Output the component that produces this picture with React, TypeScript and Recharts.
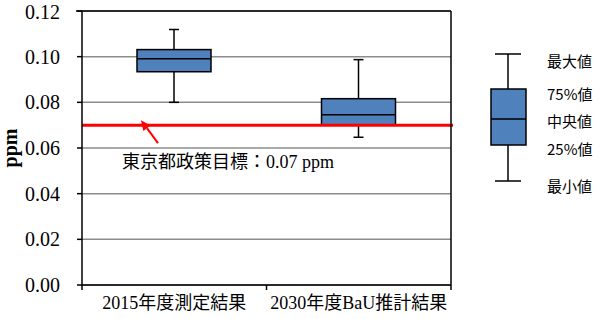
import React from 'react';
import {
  ComposedChart,
  Bar,
  XAxis,
  YAxis,
  CartesianGrid,
  ReferenceLine,
} from 'recharts';

const categories = ['2015年度測定結果', '2030年度BaU推計結果'];
const minValues = [0.08, 0.0647];
const q1Values = [0.0934, 0.07];
const medianValues = [0.0991, 0.0746];
const q3Values = [0.1031, 0.0816];
const maxValues = [0.1119, 0.0987];
const yTicks = [0, 0.02, 0.04, 0.06, 0.08, 0.1, 0.12];
const targetValue = 0.07;
const targetLabel = '東京都政策目標：0.07 ppm';
const legendLabels = ['最大値', '75%値', '中央値', '25%値', '最小値'];

const data = categories.map((name, i) => ({
  name,
  range: [minValues[i], maxValues[i]],
  min: minValues[i],
  q1: q1Values[i],
  median: medianValues[i],
  q3: q3Values[i],
  max: maxValues[i],
}));

const W = 600;
const H = 319;
const MARGIN = { top: 11, right: 149, bottom: 0, left: 0 };
const Y_AXIS_W = 82;
const X_AXIS_H = 34;
const PLOT_LEFT = MARGIN.left + Y_AXIS_W;
const PLOT_RIGHT = W - MARGIN.right;
const PLOT_TOP = MARGIN.top;
const PLOT_BOTTOM = H - X_AXIS_H;
const HALF_BAND = (PLOT_RIGHT - PLOT_LEFT) / categories.length / 2;

const SERIF = '"Liberation Serif", "Times New Roman", "Noto Sans CJK JP", serif';
const BOX_FILL = '#4f81bd';

// box drawn inside the [min, max] range bar
const BoxShape = (props: any) => {
  const { x, y, width, height, payload } = props;
  const { min, max, q1, q3, median } = payload;
  const k = Math.abs(height) / (max - min);
  const top = Math.min(y, y + height);
  const py = (v: number) => top + (max - v) * k;
  const cx = x + width / 2;
  const cap = 5;
  return (
    <g>
      <line x1={cx} x2={cx} y1={py(max)} y2={py(min)} stroke="#000" strokeWidth={1.5} />
      <line x1={cx - cap} x2={cx + cap} y1={py(max)} y2={py(max)} stroke="#000" strokeWidth={1.5} />
      <line x1={cx - cap} x2={cx + cap} y1={py(min)} y2={py(min)} stroke="#000" strokeWidth={1.5} />
      <rect x={x} y={py(q3)} width={width} height={py(q1) - py(q3)} fill={BOX_FILL} stroke="#000" strokeWidth={1.5} />
      <line x1={x} x2={x + width} y1={py(median)} y2={py(median)} stroke="#000" strokeWidth={1.5} />
    </g>
  );
};

const CategoryTick = (props: any) => {
  const { x, payload, index } = props;
  return (
    <g>
      <line x1={x - HALF_BAND} x2={x - HALF_BAND} y1={PLOT_BOTTOM} y2={PLOT_BOTTOM + 5} stroke="#000" strokeWidth={1.5} />
      {index === categories.length - 1 && (
        <line x1={x + HALF_BAND} x2={x + HALF_BAND} y1={PLOT_BOTTOM} y2={PLOT_BOTTOM + 5} stroke="#000" strokeWidth={1.5} />
      )}
      <text x={x} y={PLOT_BOTTOM + 24} textAnchor="middle" fontSize={18} fontFamily={SERIF} fill="#000">
        {payload.value}
      </text>
    </g>
  );
};

const TargetLine = (props: any) => {
  const { x1, y1 } = props;
  const tipX = x1 + 59;
  const tipY = y1 - 5;
  const tailX = x1 + 76;
  const tailY = y1 + 18;
  const ang = Math.atan2(tipY - tailY, tipX - tailX);
  const hl = 10;
  const hw = 4.5;
  const bx = tipX - hl * Math.cos(ang);
  const by = tipY - hl * Math.sin(ang);
  const nx = -Math.sin(ang) * hw;
  const ny = Math.cos(ang) * hw;
  return (
    <g>
      <line x1={x1} y1={y1} x2={PLOT_RIGHT + 2} y2={y1} stroke="#ff0000" strokeWidth={3} />
      <line x1={tailX} y1={tailY} x2={bx} y2={by} stroke="#ff0000" strokeWidth={2} />
      <polygon points={`${tipX},${tipY} ${bx + nx},${by + ny} ${bx - nx},${by - ny}`} fill="#ff0000" />
      <text x={x1 + 40} y={y1 + 43} fontSize={18} fontFamily={SERIF} fill="#000">
        {targetLabel}
      </text>
    </g>
  );
};

const Overlay = () => {
  const cx = 508;
  const labelX = 547;
  const labelY = [60, 93, 120, 148, 185];
  return (
    <svg width={W} height={H} style={{ position: 'absolute', left: 0, top: 0, pointerEvents: 'none' }}>
      {/* plot frame: top and right edges */}
      <line x1={PLOT_LEFT - 6} x2={PLOT_RIGHT} y1={PLOT_TOP} y2={PLOT_TOP} stroke="#000" strokeWidth={1.5} />
      <line x1={PLOT_RIGHT} x2={PLOT_RIGHT} y1={PLOT_TOP} y2={PLOT_BOTTOM} stroke="#000" strokeWidth={1.5} />
      {/* legend box */}
      <line x1={cx} x2={cx} y1={54} y2={181} stroke="#000" strokeWidth={1.5} />
      <line x1={cx - 13} x2={cx + 13} y1={54} y2={54} stroke="#000" strokeWidth={1.5} />
      <line x1={cx - 13} x2={cx + 13} y1={181} y2={181} stroke="#000" strokeWidth={1.5} />
      <rect x={491} y={89} width={35} height={56} fill={BOX_FILL} stroke="#000" strokeWidth={1.5} />
      <line x1={491} x2={526} y1={119} y2={119} stroke="#000" strokeWidth={1.5} />
      {legendLabels.map((t, i) => (
        <text key={t} x={labelX} y={labelY[i]} dominantBaseline="central" fontSize={15} fontFamily='"Noto Sans CJK JP", sans-serif' fill="#000">
          {t}
        </text>
      ))}
    </svg>
  );
};

export default function App() {
  return (
    <div style={{ position: 'absolute', left: 0, top: 0, width: W, height: H, background: '#fff' }}>
      <ComposedChart width={W} height={H} data={data} margin={MARGIN}>
        <CartesianGrid horizontal vertical={false} stroke="#8c8c8c" strokeWidth={1.5} />
        <XAxis
          dataKey="name"
          height={X_AXIS_H}
          axisLine={{ stroke: '#000', strokeWidth: 1.5 }}
          tickLine={false}
          tick={<CategoryTick />}
          interval={0}
        />
        <YAxis
          domain={[0, 0.12]}
          ticks={yTicks}
          width={Y_AXIS_W}
          tickFormatter={(v: number) => v.toFixed(2)}
          tick={{ fontSize: 20, fontFamily: SERIF, fill: '#000' }}
          tickSize={5}
          tickMargin={17}
          tickLine={{ stroke: '#000', strokeWidth: 1.5 }}
          axisLine={{ stroke: '#000', strokeWidth: 1.5 }}
          label={{
            value: 'ppm',
            angle: -90,
            position: 'insideLeft',
            offset: 10,
            style: { fontSize: 20, fontWeight: 'bold', fontFamily: SERIF, fill: '#000', textAnchor: 'middle' },
          }}
        />
        <Bar dataKey="range" barSize={74} shape={<BoxShape />} isAnimationActive={false} />
        <ReferenceLine y={targetValue} shape={(p: any) => <TargetLine {...p} />} />
      </ComposedChart>
      <Overlay />
    </div>
  );
}
